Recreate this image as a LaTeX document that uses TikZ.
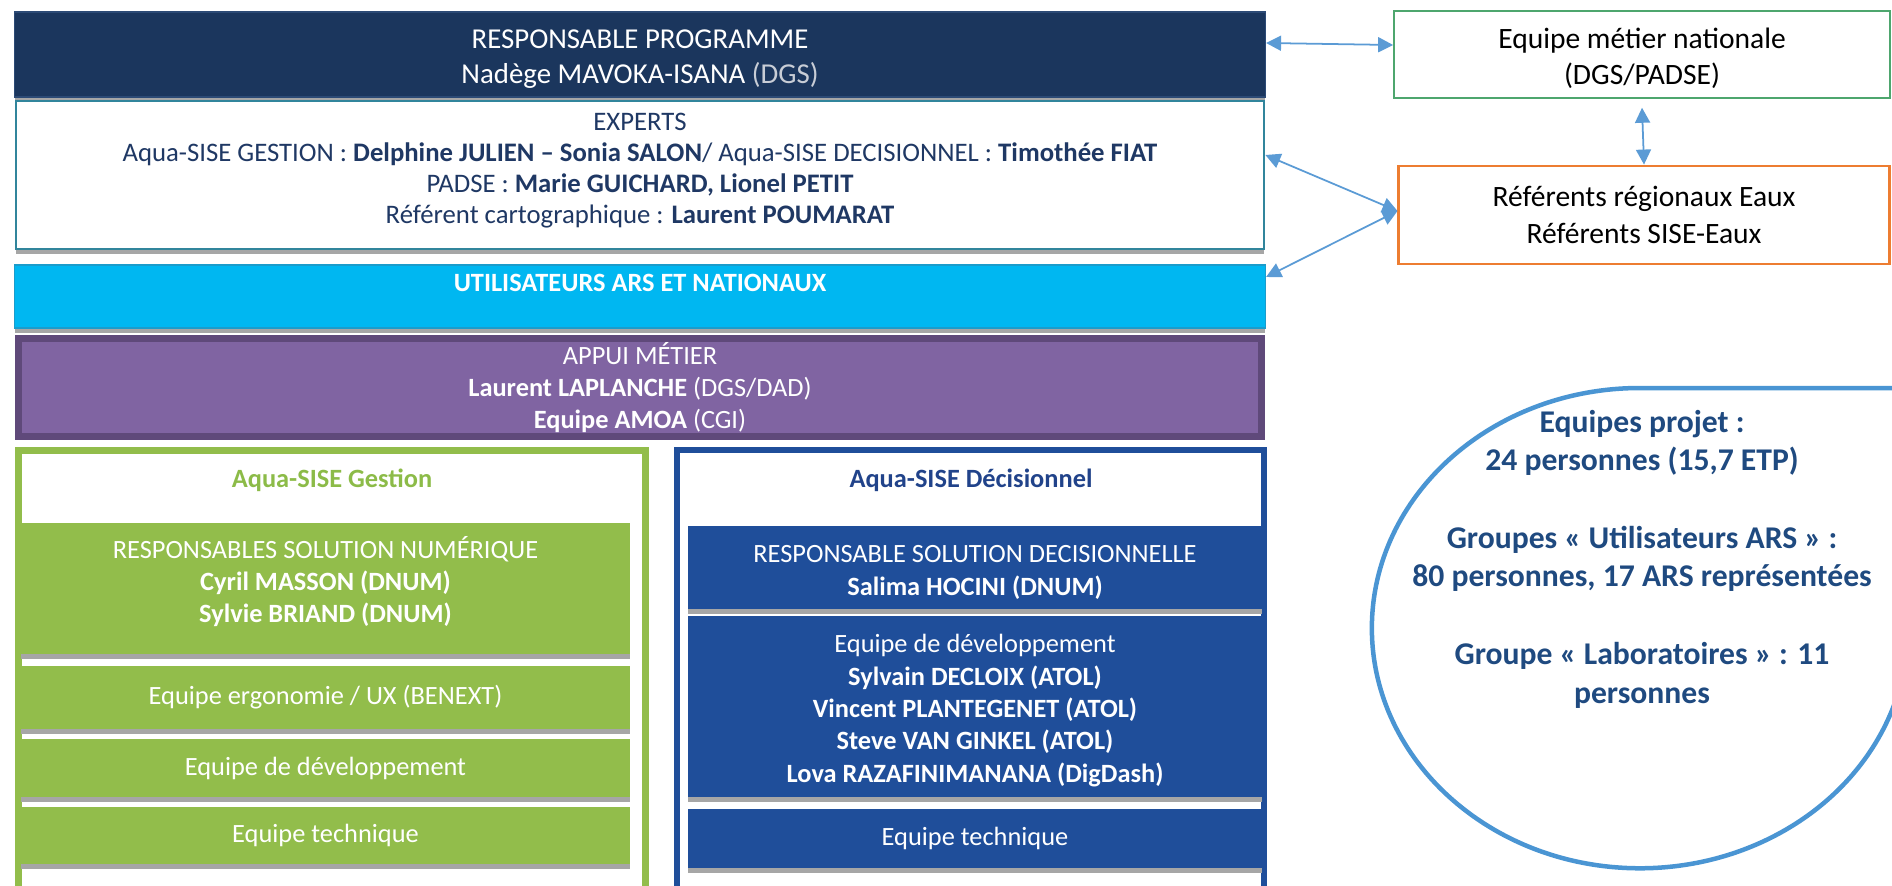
\documentclass[tikz,border=0pt]{standalone}
\usepackage{fontspec}
\setmainfont{Carlito}
\usetikzlibrary{arrows.meta,shadows}
\definecolor{navyfill}{HTML}{1B365D}
\definecolor{navyline}{HTML}{2C4A75}
\definecolor{dgsgray}{HTML}{C8CDD6}
\definecolor{expertline}{HTML}{31859C}
\definecolor{experttext}{HTML}{1F3864}
\definecolor{cyanfill}{HTML}{00B7F1}
\definecolor{cyanline}{HTML}{1B9CCB}
\definecolor{purplefill}{HTML}{8064A2}
\definecolor{purpleline}{HTML}{5F497A}
\definecolor{greenfill}{HTML}{92BD4B}
\definecolor{greentext}{HTML}{8CBB48}
\definecolor{bluefill}{HTML}{1F4E9A}
\definecolor{bluetext}{HTML}{21438A}
\definecolor{shadowgray}{HTML}{A6A6A6}
\definecolor{arrowblue}{HTML}{5B9BD5}
\definecolor{ringblue}{HTML}{4A95D3}
\definecolor{ringtext}{HTML}{1F4A80}
\definecolor{metierline}{HTML}{4EA66E}
\definecolor{referline}{HTML}{ED7D31}
\begin{document}
\begin{tikzpicture} [x=0.01cm, y=-0.01cm,
  every node/.style={align=center, inner sep=0pt, font=\fontsize{7.5}{9.2}\selectfont},
  tile/.style={drop shadow={shadow xshift=0cm, shadow yshift=-0.045cm, fill=shadowgray, opacity=1}},
  greentile/.style={tile, fill=greenfill, text=white, minimum width=6.09cm},
  bluetile/.style={tile, fill=bluefill, text=white, minimum width=5.74cm},
  sidebox/.style={fill=white, font=\fontsize{8.4}{10.4}\selectfont},
  link/.style={<->, >={Triangle[length=0.15cm, width=0.15cm]}, draw=arrowblue, line width=0.5pt}]
  \useasboundingbox (0,0) rectangle (1892,885);
  \clip (0,0) rectangle (1892,885);

% top
  \node (prog) at (640,54.5) [tile, fill=navyfill, draw=navyline, minimum width=12.5cm, minimum height=0.85cm] {};
  \node (progtext) at ([yshift=-0.05cm]prog.center) [text=white, font=\fontsize{8.2}{9.9}\selectfont] {RESPONSABLE PROGRAMME\\Nadège MAVOKA-ISANA \textcolor{dgsgray}{(DGS)}};
  \node (experts) at (640,175) [tile, fill=white, draw=expertline, line width=0.02cm, minimum width=12.48cm, minimum height=1.48cm] {};
  \node (expertstext) at ([yshift=0.04cm]experts.center) [text=experttext, font=\fontsize{7.6}{8.8}\selectfont] {EXPERTS\\Aqua-SISE GESTION : \textbf{Delphine JULIEN – Sonia SALON}/ Aqua-SISE DECISIONNEL : \textbf{Timothée FIAT}\\PADSE : \textbf{Marie GUICHARD, Lionel PETIT}\\Référent cartographique : \textbf{Laurent POUMARAT}};
  \node (users) at (640,296.5) [tile, fill=cyanfill, draw=cyanline, text=white, minimum width=12.5cm, minimum height=0.63cm, text depth=0.27cm] {\textbf{UTILISATEURS ARS ET NATIONAUX}};
  \node (appui) at (640,387.5) [fill=purplefill, draw=purpleline, line width=0.07cm, text=white, minimum width=12.43cm, minimum height=0.98cm] {APPUI MÉTIER\\\textbf{Laurent LAPLANCHE} (DGS/DAD)\\\textbf{Equipe AMOA} (CGI)};

% gestion
  \draw [line width=0.07cm, draw=greenfill] (18.5,450.5) rectangle (645.5,950);
  \node (gestion) at (332,480) [text=greentext] {\textbf{Aqua-SISE Gestion}};
  \node (gsol) at (325.5,588.5) [greentile, minimum height=1.31cm] {};
  \node (gsoltext) at ([yshift=0.07cm]gsol.center) [text=white] {RESPONSABLES SOLUTION NUMÉRIQUE\\\textbf{Cyril MASSON (DNUM)}\\\textbf{Sylvie BRIAND (DNUM)}};
  \node (gux) at (325.5,697.5) [greentile, minimum height=0.63cm] {Equipe ergonomie / UX (BENEXT)};
  \node (gdev) at (325.5,768) [greentile, minimum height=0.58cm] {Equipe de développement};
  \node (gtech) at (325.5,835.5) [greentile, minimum height=0.57cm] {Equipe technique};

% decisionnel
  \draw [line width=0.06cm, draw=bluefill] (677,450) rectangle (1264,950);
  \node (decision) at (971,480) [text=bluetext] {\textbf{Aqua-SISE Décisionnel}};
  \node (dsol) at (975,567.5) [bluetile, minimum height=0.83cm] {};
  \node (dsoltext) at ([yshift=-0.05cm]dsol.center) [text=white] {RESPONSABLE SOLUTION DECISIONNELLE\\\textbf{Salima HOCINI (DNUM)}};
  \node (ddev) at (975,706.5) [bluetile, minimum height=1.81cm] {};
  \node (ddevtext) at ([yshift=-0.04cm]ddev.center) [text=white] {Equipe de développement\\\textbf{Sylvain DECLOIX (ATOL)}\\\textbf{Vincent PLANTEGENET (ATOL)}\\\textbf{Steve VAN GINKEL (ATOL)}\\\textbf{Lova RAZAFINIMANANA (DigDash)}};
  \node (dtech) at (975,838.5) [bluetile, minimum height=0.59cm] {Equipe technique};

% right
  \node (metier) at (1642,54.5) [sidebox, draw=metierline, line width=0.015cm, minimum width=4.96cm, minimum height=0.87cm] {};
  \node (metiertext) at ([yshift=-0.04cm]metier.center) [font=\fontsize{8.4}{10.4}\selectfont] {Equipe métier nationale\\(DGS/PADSE)};
  \node (refer) at (1644,215) [sidebox, draw=referline, line width=0.028cm, minimum width=4.9cm, minimum height=0.98cm] {Référents régionaux Eaux\\Référents SISE-Eaux};

  \draw [link] ([yshift=0.115cm]prog.east) -- ([yshift=0.095cm]metier.west);
  \draw [link] ([yshift=-0.09cm]metier.south) -- (refer.north);
  \draw [link] ([yshift=0.2cm]experts.east) -- ([yshift=0.04cm]refer.west);
  \draw [link] ([yshift=0.195cm]users.east) -- ([yshift=0.04cm]refer.west);

% stats
  \draw [ringblue, line width=0.045cm] (1900,388) -- (1640,388) arc [start angle=90, end angle=370, x radius=2.68cm, y radius=2.4cm];
  \node (stats) at (1642,559) [text=ringtext, font=\bfseries\fontsize{9}{11}\selectfont] {Equipes projet :\\24 personnes (15,7 ETP)\\[11pt]Groupes « Utilisateurs ARS » :\\80 personnes, 17 ARS représentées\\[11pt]Groupe « Laboratoires » : 11\\personnes};
\end{tikzpicture}
\end{document}
